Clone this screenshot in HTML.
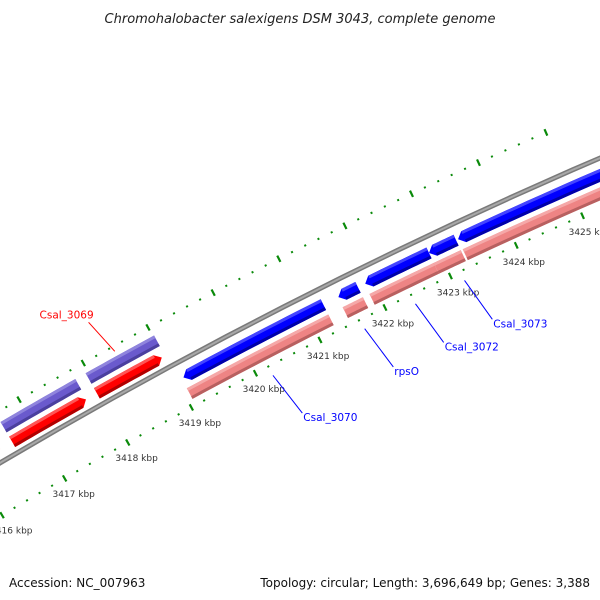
<!DOCTYPE html>
<html><head><meta charset="utf-8"><style>
html,body{margin:0;padding:0;background:#fff;}
svg{display:block;font-family:"DejaVu Sans","Liberation Sans",sans-serif;}
</style></head><body>
<svg id="chart" width="600" height="600" viewBox="0 0 600 600" xmlns="http://www.w3.org/2000/svg">
<rect x="0" y="0" width="600" height="600" fill="#fff"/>
<text x="300" y="23" text-anchor="middle" font-size="13" font-style="italic" fill="#222">Chromohalobacter salexigens DSM 3043, complete genome</text>
<g id="plot"></g>
<text x="9" y="587" font-size="12" fill="#111">Accession: NC_007963</text>
<text x="590" y="587" text-anchor="end" font-size="12" fill="#111">Topology: circular; Length: 3,696,649 bp; Genes: 3,388</text>
</svg>
<script>
// data
const tickLabelsKbp = [3416, 3417, 3418, 3419, 3420, 3421, 3422, 3423, 3424, 3425];
const geneStarts = [3415.8, 3416.63, 3417.96, 3419.10, 3421.49, 3421.90, 3422.87, 3423.31];
const geneEnds   = [3416.44, 3417.79, 3418.97, 3421.26, 3421.79, 3422.87, 3423.28, 3425.8];
const geneStrand = [1, 1, 1, -1, -1, -1, -1, -1];
const geneNames  = ["Csal_3068", "Csal_3068b", "Csal_3069", "Csal_3070", "rpsO", "Csal_3072", "Csal_3073a", "Csal_3073"];
const cdsStarts = [3415.8, 3416.63, 3417.96, 3419.07, 3421.48, 3421.89, 3422.87, 3423.31];
const cdsEnds   = [3416.44, 3417.80, 3419.02, 3421.26, 3421.79, 3422.87, 3423.28, 3425.8];
const labelNames = ["Csal_3069", "Csal_3070", "rpsO", "Csal_3072", "Csal_3073"];
const labelKbp   = [3418.45, 3420.20, 3421.62, 3422.40, 3423.15];
const labelStrand = [1, -1, -1, -1, -1];

// axis geometry
const NS = "http://www.w3.org/2000/svg";
const g = document.getElementById("plot");
const CX = 2712, CY = 5056, R0 = 5334;
function ang(x, y) { return Math.atan2(y - CY, x - CX); }
const A1 = ang(65, 479), A2 = ang(517, 247), K1 = 3417, K2 = 3424;
function angleOf(k) { return A1 + (k - K1) * (A2 - A1) / (K2 - K1); }
function pt(k, off) { const a = angleOf(k), r = R0 - off; return [CX + r * Math.cos(a), CY + r * Math.sin(a)]; }
function make(tag, attrs) { const e = document.createElementNS(NS, tag); for (const k in attrs) e.setAttribute(k, attrs[k]); g.appendChild(e); return e; }
function pts(list) { return list.map(p => p[0].toFixed(2) + "," + p[1].toFixed(2)).join(" "); }
function edge(k1, k2, off) { const out = []; const n = 12; for (let i = 0; i <= n; i++) out.push(pt(k1 + (k2 - k1) * i / n, off)); return out; }
const HEAD = 0.085;

function band(k1, k2, off, half, dir, fill, light, dark, name) {
  let b1 = k1, b2 = k2;
  if (dir === 1) b2 = Math.max(k1, k2 - HEAD);
  if (dir === -1) b1 = Math.min(k2, k1 + HEAD);
  let poly = edge(b1, b2, off - half);
  if (dir === 1) poly.push(pt(k2, off));
  poly = poly.concat(edge(b1, b2, off + half).reverse());
  if (dir === -1) poly.push(pt(k1, off));
  const p = make("polygon", { points: pts(poly), fill: fill });
  
  
  const t = make("polygon", { points: pts(edge(b1, b2, off - half).concat(edge(b1, b2, off - half + 3).reverse())), fill: light });
  
  
  const d = make("polygon", { points: pts(edge(b1, b2, off + half - 3).concat(edge(b1, b2, off + half).reverse())), fill: dark });
  
  
}

// backbone
const bb = edge(3415.5, 3426, 0);
const bl = make("polyline", { points: pts(bb), fill: "none", stroke: "#7a7a7a", "stroke-width": 5 });


const bl2 = make("polyline", { points: pts(bb), fill: "none", stroke: "#a8a8a8", "stroke-width": 2 });



// ticks
const kmin = tickLabelsKbp[0], kmax = tickLabelsKbp[tickLabelsKbp.length - 1];
for (let i = Math.round(kmin * 5); i <= Math.round(kmax * 5); i++) {
  const k = i / 5;
  const major = i % 5 === 0;
  [-45, 46].forEach(off => {
    const a = pt(k, off - (major ? 3.5 : 1)), b = pt(k, off + (major ? 3.5 : 1));
    const l = make("line", { x1: a[0], y1: a[1], x2: b[0], y2: b[1], stroke: "#0a8a0a", "stroke-width": major ? 2.2 : 2 });
    
    
  });
}
tickLabelsKbp.forEach(k => {
  const p = pt(k, 64);
  const t = make("text", { x: p[0].toFixed(1), y: (p[1] + 3).toFixed(1), "text-anchor": "middle", "font-size": 9, fill: "#333" });
  t.textContent = k + " kbp";
  
  
});

// features
for (let i = 0; i < cdsStarts.length; i++) {
  if (geneStrand[i] === 1) band(cdsStarts[i], cdsEnds[i], -29, 6, 0, "#6a5acd", "#8f84dd", "#4b3f9e", "cds-" + geneNames[i]);
  else band(cdsStarts[i], cdsEnds[i], 33, 6, 0, "#ee8484", "#f5a8a8", "#b86060", "cds-" + geneNames[i]);
}
for (let i = 0; i < geneStarts.length; i++) {
  if (geneStrand[i] === 1) band(geneStarts[i], geneEnds[i], -12, 6, 1, "#ff0000", "#ff5555", "#b00000", "gene-" + geneNames[i]);
  else band(geneStarts[i], geneEnds[i], 16, 6, -1, "#0000ff", "#4444ff", "#0000a8", "gene-" + geneNames[i]);
}

// labels
for (let i = 0; i < labelNames.length; i++) {
  const fwd = labelStrand[i] === 1;
  const col = fwd ? "#ff0000" : "#0000ff";
  const a = pt(labelKbp[i], fwd ? -40 : 56), b = pt(labelKbp[i] + (fwd ? -0.12 : 0.12), fwd ? -78 : 103);
  const l = make("line", { x1: a[0], y1: a[1], x2: b[0], y2: b[1], stroke: col, "stroke-width": 1 });
  
  
  const t = make("text", { x: (fwd ? b[0] - 22 : b[0] + 1).toFixed(1), y: (fwd ? b[1] - 4 : b[1] + 8).toFixed(1), "text-anchor": fwd ? "middle" : "start", "font-size": 10.5, fill: col });
  t.textContent = labelNames[i];
  
  
}
</script>
</body></html>
